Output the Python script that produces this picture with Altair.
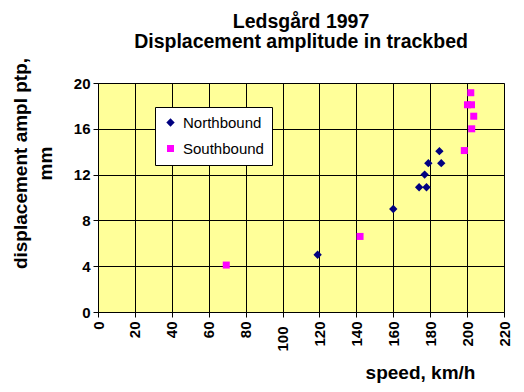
import altair as alt
import pandas as pd

# Data
series_names = ["Northbound", "Southbound"]
nb_speed = [119, 160, 174, 178, 177, 179, 186, 185]
nb_disp = [5.0, 9.0, 10.9, 10.9, 12.0, 13.0, 13.0, 14.05]
sb_speed = [69.5, 142, 198.5, 202.5, 203.6, 200.2, 202.4, 202.0]
sb_disp = [4.1, 6.6, 14.1, 16.0, 17.1, 18.1, 18.1, 19.15]
x_ticks = [0, 20, 40, 60, 80, 100, 120, 140, 160, 180, 200, 220]
y_ticks = [0, 4, 8, 12, 16, 20]

rows = []
for s, d in zip(nb_speed, nb_disp):
    rows.append({"speed": s, "disp": d, "series": "Northbound"})
for s, d in zip(sb_speed, sb_disp):
    rows.append({"speed": s, "disp": d, "series": "Southbound"})
df = pd.DataFrame(rows)

FONT = "Liberation Sans"

legend = alt.Legend(
    title=None, orient="none", legendX=57, legendY=24,
    fillColor="white", strokeColor="black", padding=8, cornerRadius=0,
    labelFont=FONT, labelFontSize=15, labelColor="black", labelOffset=5,
    symbolSize=40, rowPadding=10, symbolStrokeWidth=0,
)

chart = alt.Chart(df).mark_point(filled=True, opacity=1, strokeWidth=0).encode(
    x=alt.X("speed:Q",
            scale=alt.Scale(domain=[0, 220], nice=False),
            axis=alt.Axis(values=x_ticks, title="speed, km/h",
                          labelAngle=270, labelAlign="right", labelBaseline="middle",
                          labelPadding={"condition": {"test": "datum.value == 100", "value": 9}, "value": 4},
                          tickSize=5,
                          titleX=322, titleY=66, titleAlign="center",
                          titleBaseline="alphabetic", titleFontSize=19)),
    y=alt.Y("disp:Q",
            scale=alt.Scale(domain=[0, 20], nice=False),
            axis=alt.Axis(values=y_ticks, title=["displacement ampl ptp,", "mm"],
                          labelPadding=3, tickSize=5,
                          titleAngle=270, titleX=-72, titleY=80, titleAlign="center",
                          titleBaseline="alphabetic", titleLineHeight=25,
                          titleFontSize=19)),
    color=alt.Color("series:N",
                    scale=alt.Scale(domain=series_names, range=["#000080", "#FF00FF"]),
                    legend=legend),
    shape=alt.Shape("series:N",
                    scale=alt.Scale(domain=series_names, range=["diamond", "square"]),
                    legend=legend),
    size=alt.Size("series:N",
                  scale=alt.Scale(domain=series_names, range=[70, 49]),
                  legend=None),
).properties(
    width=406, height=229,
    title=alt.TitleParams(
        text=["Ledsgård 1997", "Displacement amplitude in trackbed"],
        font=FONT, fontSize=19.5, fontWeight="bold", color="black",
        anchor="middle", lineHeight=20, offset=5,
    ),
    autosize=alt.AutoSizeParams(type="none"),
    padding={"left": 90, "top": 75, "right": 12, "bottom": 72},
    background="white",
).configure_view(
    fill="#FFFF99", stroke="#808080", strokeWidth=1,
).configure_axis(
    grid=True, gridColor="black", gridOpacity=1, gridWidth=1,
    domainColor="black", domainWidth=1, tickColor="black", tickWidth=1,
    labelFont=FONT, labelFontSize=15, labelFontWeight="bold", labelColor="black",
    titleFont=FONT, titleFontWeight="bold", titleColor="black",
)

chart.save("out.html", embed_options={"renderer": "svg", "actions": False})
